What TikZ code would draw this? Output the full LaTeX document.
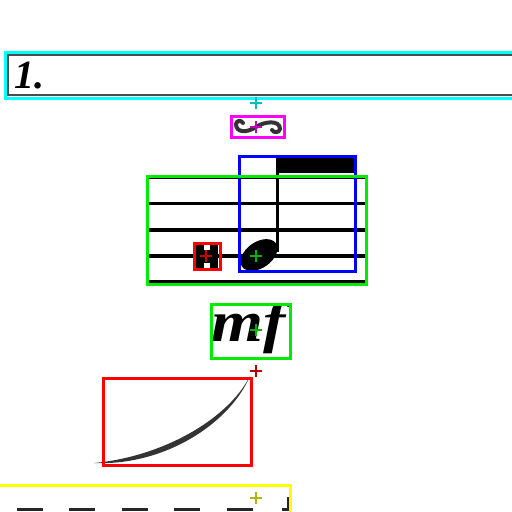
\documentclass[tikz,border=0pt]{standalone}
\usepackage{fontspec}
\newfontfamily\dynfont{Liberation Serif}
\usetikzlibrary{shapes.misc}
\definecolor{boxcyan}{RGB}{0,255,255}
\definecolor{boxmagenta}{RGB}{255,0,255}
\definecolor{boxyellow}{RGB}{255,255,0}
\definecolor{boxgreen}{RGB}{0,235,0}
\definecolor{boxred}{RGB}{255,0,0}
\definecolor{boxblue}{RGB}{0,0,255}
\begin{document}
\begin{tikzpicture}[x=1pt,y=-1pt,
  bbox/.style={draw, line width=3pt, inner sep=0pt, outer sep=0pt, anchor=north west},
  plusmark/.style={draw, line width=2pt, cross out, rotate=45, minimum size=7pt, inner sep=0pt},
  staffline/.style={line width=3.2pt, black}]
\useasboundingbox (0,0) rectangle (512,512);
% --- content ---
\draw[line width=1.6pt, black!70] (8,55) rectangle (530,95);
\node[anchor=base west, inner sep=0pt] (num) at (14,88) {\dynfont\fontsize{40}{40}\selectfont\bfseries\itshape 1.};
% turn ornament
\draw[line width=4pt, line cap=round, black!80]
  (243,123) .. controls (241,120) and (237,120) .. (236,124)
  .. controls (236,133) and (247,133) .. (256,127)
  .. controls (265,121) and (280,120) .. (280,129)
  .. controls (279,133) and (274,133) .. (272,130);
% staff
\foreach \yy in {177.5,203.5,230,256,282}
  \draw[staffline] (147,\yy) -- (365,\yy);
% note
\fill[rotate around={35:(259,255)}] (259,255) ellipse [x radius=20.5, y radius=13];
\fill (275.5,157) rectangle (278.5,252);
\fill (276,156) rectangle (355,173);
% small symbol
\fill (196,245) rectangle (218,268);
\fill[white] (204,245) rectangle (210,250);
\fill[white] (204,263) rectangle (210,268);
\draw[staffline] (194,256) -- (220,256);
% mf
\begin{scope}
  \clip (211,304) rectangle (290,358);
  \node[anchor=base west, inner sep=0pt] (mftext) at (211,341) {\dynfont\fontsize{58}{58}\selectfont\bfseries\itshape\scalebox{1.15}[1]{mf}};
\end{scope}
% slur
\fill[black!80] (94,463) .. controls (160,457) and (227,421) .. (250,376)
  .. controls (229,425) and (163,466) .. (94,463) -- cycle;
% dashes and corner
\foreach \xx in {17,69,122,174,227}
  \draw[line width=3pt, black!85] (\xx,509) -- ++(26,0);
\draw[line width=3pt, black!85] (282,509) -- (288,509) -- (288,497);
% --- boxes ---
\node[bbox, draw=boxcyan, minimum width=512pt, minimum height=46pt] (titlebox) at (5,52) {};
\node[bbox, draw=boxmagenta, minimum width=53pt, minimum height=21pt] (turnbox) at (231.5,116.5) {};
\node[bbox, draw=boxblue, minimum width=116pt, minimum height=115pt] (notebox) at (239,156) {};
\node[bbox, draw=boxgreen, minimum width=219pt, minimum height=108pt] (staffbox) at (147,176) {};
\node[bbox, draw=boxred, minimum width=26pt, minimum height=26pt] (dotbox) at (194,243) {};
\node[bbox, draw=boxgreen, minimum width=79pt, minimum height=54pt] (mfbox) at (211,304) {};
\node[bbox, draw=boxred, minimum width=148pt, minimum height=87pt] (slurbox) at (103,378) {};
\node[bbox, draw=boxyellow, minimum width=292pt, minimum height=40pt] (dashbox) at (-2,485) {};
% --- markers ---
\node[plusmark, draw={rgb,255:red,0;green,190;blue,190}] (m1) at (256,103) {};
\node[plusmark, draw={rgb,255:red,190;green,0;blue,190}] (m2) at (256,127) {};
\node[plusmark, draw={rgb,255:red,0;green,180;blue,0}] (m3) at (256,256) {};
\node[plusmark, draw={rgb,255:red,200;green,0;blue,0}] (m4) at (206,256) {};
\node[plusmark, draw={rgb,255:red,0;green,180;blue,0}] (m5) at (256,330) {};
\node[plusmark, draw={rgb,255:red,180;green,0;blue,0}] (m6) at (256,371) {};
\node[plusmark, draw={rgb,255:red,180;green,180;blue,0}] (m7) at (256,498) {};
\end{tikzpicture}
\end{document}
